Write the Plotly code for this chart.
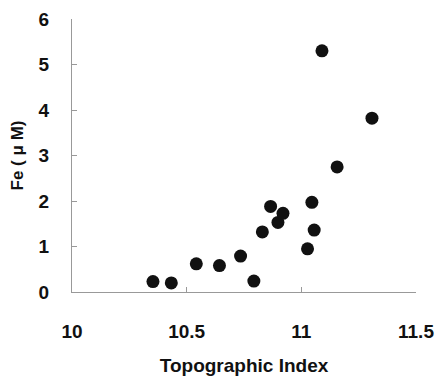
import plotly.graph_objects as go

topo_index = [10.353, 10.433, 10.542, 10.643, 10.735, 10.793, 10.83, 10.866,
              10.898, 10.92, 11.027, 11.046, 11.056, 11.09, 11.156, 11.308]
fe_um = [0.23, 0.20, 0.62, 0.58, 0.79, 0.24, 1.32, 1.88,
         1.53, 1.73, 0.95, 1.97, 1.36, 5.30, 2.75, 3.82]

x_ticks = [10, 10.5, 11, 11.5]
x_tick_text = ["10", "10.5", "11", "11.5"]
y_ticks = [0, 1, 2, 3, 4, 5, 6]

fig = go.Figure(go.Scatter(
    x=topo_index, y=fe_um, mode="markers",
    marker=dict(size=13, color="#111111"),
    cliponaxis=False,
))

font = dict(family="Liberation Sans, Arial, sans-serif", size=19, color="#111111", weight="bold")

fig.update_layout(
    width=435, height=376,
    margin=dict(l=72, r=19, t=19, b=84),
    paper_bgcolor="white", plot_bgcolor="white",
    showlegend=False,
    font=font,
    xaxis=dict(
        range=[10, 11.5], tickvals=x_ticks, ticktext=x_tick_text,
        automargin=False,
        showgrid=False, zeroline=False, showline=True, linecolor="#999999", linewidth=1,
        ticks="inside", ticklen=5, tickcolor="#999999",
        ticklabelstandoff=22,
        title=dict(text="Topographic Index", standoff=22, font=dict(size=19)),
    ),
    yaxis=dict(
        range=[0, 6], tickvals=y_ticks,
        automargin=False,
        showgrid=False, zeroline=False, showline=True, linecolor="#999999", linewidth=1,
        ticks="inside", ticklen=5, tickcolor="#999999",
        ticklabelstandoff=18,
        title=dict(text="Fe ( μ M)", standoff=10, font=dict(size=17)),
    ),
)

fig.write_html("out.html", config={"displayModeBar": False},
               post_script="document.body.style.margin='0';document.body.style.overflow='hidden';")
